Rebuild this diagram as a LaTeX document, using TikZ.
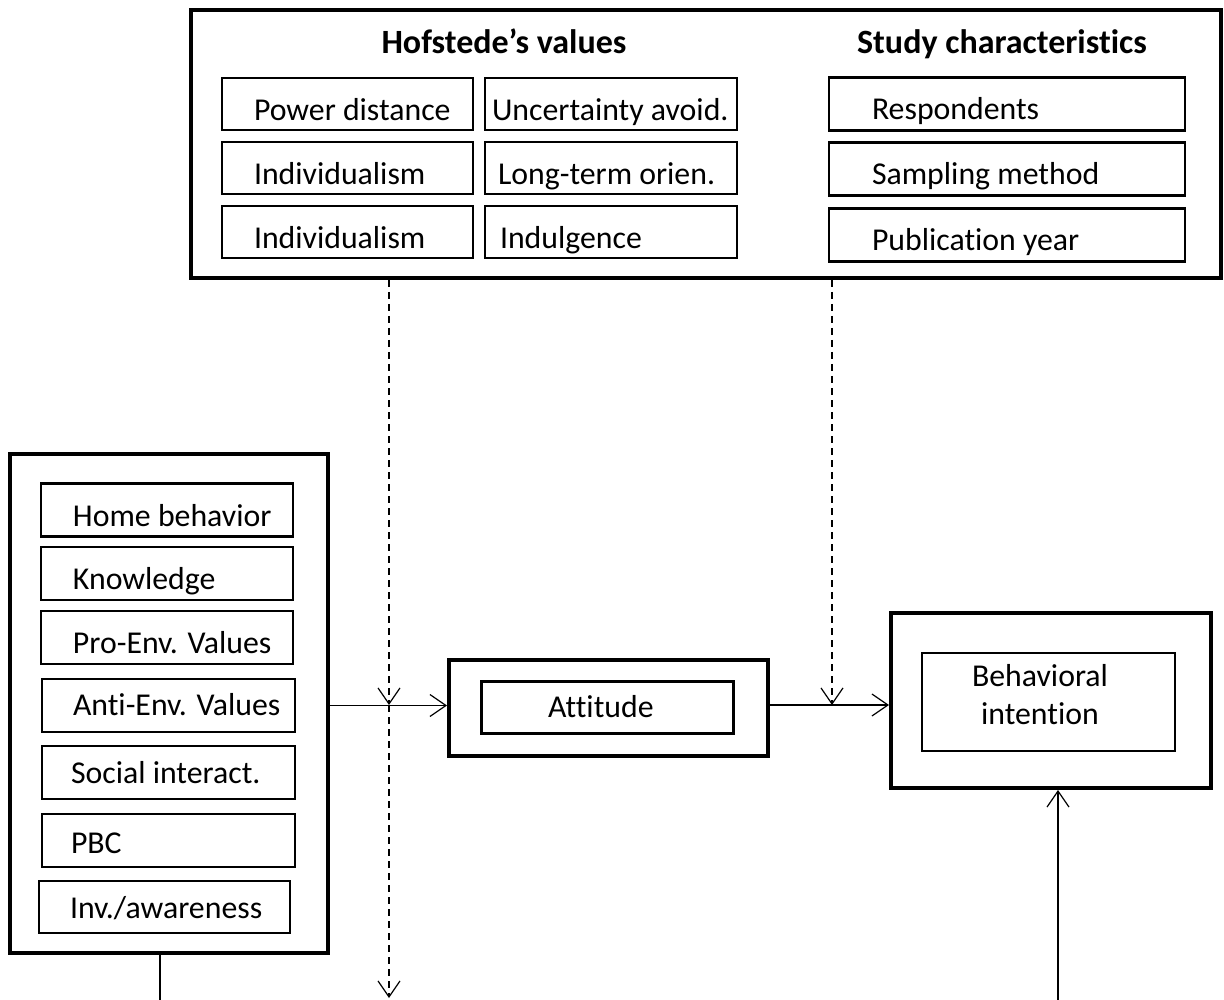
\documentclass[tikz,border=0pt]{standalone}
\usepackage{fontspec}
\setmainfont{Carlito}[Ligatures=NoCommon]
\usetikzlibrary{arrows.meta}
\newcommand\lbx[3]{\makebox[#1pt][l]{\hspace*{#2pt}#3}}
\begin{document}
\begin{tikzpicture}[x=1pt,y=-1pt,
  outer/.style={draw,line width=4pt,inner sep=0pt},
  item/.style={draw,line width=2.5pt,inner sep=0pt,font=\fontsize{31.8}{38}\selectfont},
  tb/.style 2 args={text height=#1pt,text depth=#2pt},
  ttl/.style={font=\fontsize{34}{40}\selectfont\bfseries,anchor=base,inner sep=0pt},
  arr/.style={line width=1.2pt,-{Straight Barb[length=16pt,width=22pt,line width=1.2pt]}},
  dsh/.style={arr,dash pattern=on 7pt off 5pt},
  plain/.style={line width=1.2pt}]
\fill[white] (0,0) rectangle (1224,1000);
\useasboundingbox (0,0) rectangle (1224,1000);

% ---------- top box ----------
\node[outer,minimum width=1030pt,minimum height=268pt] (top) at (706,144) {};
\node[ttl] (hof) at (504,54) {Hofstede’s values};
\node[ttl] (sc) at (1002,54) {Study characteristics};

\node[item,tb={40}{6},minimum width=251pt,minimum height=52pt] (pd) at (347.5,104) {\lbx{251}{32}{Power distance}};
\node[item,tb={40}{6},minimum width=251pt,minimum height=52pt] (ind1) at (347.5,168) {\lbx{251}{32}{Individualism}};
\node[item,tb={40}{6},minimum width=251pt,minimum height=52pt] (ind2) at (347.5,232) {\lbx{251}{32}{Individualism}};

\node[item,tb={40}{6},minimum width=252pt,minimum height=52pt] (ua) at (611,104) {\lbx{252}{7}{Uncertainty avoid.}};
\node[item,tb={40}{6},minimum width=252pt,minimum height=52pt] (lto) at (611,168) {\lbx{252}{13}{Long-term orien.}};
\node[item,tb={40}{6},minimum width=252pt,minimum height=52pt] (indl) at (611,232) {\lbx{252}{15}{Indulgence}};

\node[item,tb={38.5}{7.5},minimum width=356pt,minimum height=53pt] (resp) at (1007,104) {\lbx{356}{43}{Respondents}};
\node[item,tb={38.5}{7.5},minimum width=356pt,minimum height=53pt] (samp) at (1007,169) {\lbx{356}{43}{Sampling method}};
\node[item,tb={38.5}{7.5},minimum width=356pt,minimum height=53pt] (pub) at (1007,235) {\lbx{356}{43}{Publication year}};

% ---------- left box ----------
\node[outer,minimum width=318pt,minimum height=499pt] (lbox) at (169,703.5) {};
\node[item,tb={39.5}{6.5},minimum width=252pt,minimum height=53pt] (home) at (167,510) {\lbx{252}{32}{Home behavior}};
\node[item,tb={38.5}{7.5},minimum width=252pt,minimum height=53pt] (know) at (167,573.5) {\lbx{252}{32}{Knowledge}};
\node[item,tb={38.5}{7.5},minimum width=252pt,minimum height=53pt] (pro) at (167,637.5) {\lbx{252}{32}{Pro-Env. Values}};
\node[item,tb={32.5}{13.5},minimum width=253pt,minimum height=53pt] (anti) at (168.5,705.5) {\lbx{253}{31}{Anti-Env. Values}};
\node[item,tb={33.5}{12.5},minimum width=253pt,minimum height=53pt] (soc) at (168.5,772.5) {\lbx{253}{29}{Social interact.}};
\node[item,tb={35.5}{10.5},minimum width=253pt,minimum height=53pt] (pbc) at (168.5,840.5) {\lbx{253}{29}{PBC}};
\node[item,tb={34.5}{11.5},minimum width=251pt,minimum height=52pt] (inv) at (164.5,907) {\lbx{251}{31}{Inv./awareness}};

% ---------- attitude ----------
\node[outer,minimum width=319pt,minimum height=96pt] (att) at (608.5,708) {};
\node[item,line width=3pt,tb={33}{13},minimum width=252pt,minimum height=52pt] (atti) at (607,707) {\lbx{252}{67}{Attitude}};

% ---------- behavioral intention ----------
\node[outer,minimum width=320pt,minimum height=175pt] (bi) at (1051,700.5) {};
\node[item,tb={50}{45},minimum width=253pt,minimum height=98pt] (bii) at (1048.5,702)
  {\makebox[253pt]{\begin{tabular}{@{}c@{}}Behavioral\\intention\end{tabular}\hspace*{17pt}}};

% ---------- connectors ----------
\coordinate (m1) at (389,705);
\coordinate (m2) at (832,705);
\coordinate (b0) at (160,1000);
\coordinate (b1) at (389,998);
\coordinate (b2) at (1058,1000);

\draw[arr] (anti.center -| lbox.east) -- (anti.center -| att.west);
\draw[arr] (m2 -| att.east) -- (m2 -| bi.west);
\draw[dsh] (top.south -| m1) -- (m1);
\draw[dsh] (m1) -- (b1);
\draw[dsh] (top.south -| m2) -- (m2);
\draw[plain] (lbox.south -| b0) -- (b0);
\draw[arr] (b2) -- (bi.south -| b2);
\end{tikzpicture}
\end{document}
